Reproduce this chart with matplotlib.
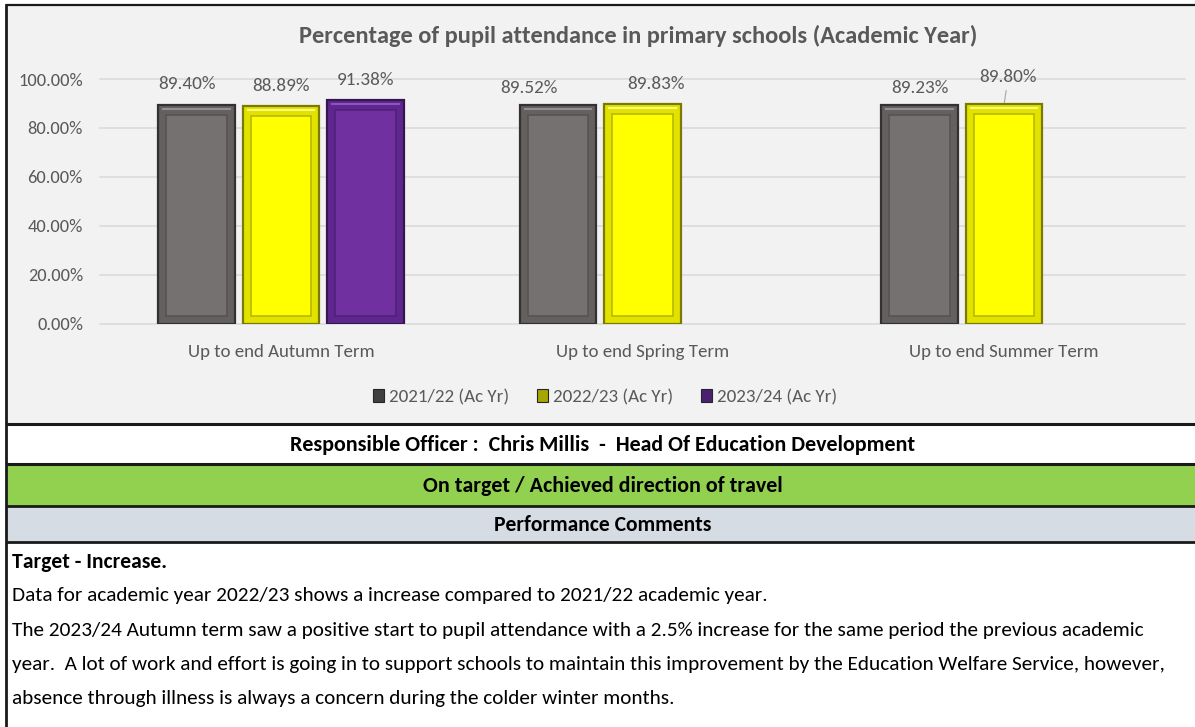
import matplotlib
matplotlib.use("Agg")
import matplotlib.pyplot as plt
from matplotlib import font_manager as fm
from matplotlib.patches import Rectangle
import numpy as np

# ---------------- data ----------------
categories = ["Up to end Autumn Term", "Up to end Spring Term", "Up to end Summer Term"]
series_names = ["2021/22 (Ac Yr)", "2022/23 (Ac Yr)", "2023/24 (Ac Yr)"]
v_2021_22 = [89.40, 89.52, 89.23]
v_2022_23 = [88.89, 89.83, 89.80]
v_2023_24 = [91.38, np.nan, np.nan]
yticks = [0, 20, 40, 60, 80, 100]

title = "Percentage of pupil attendance in primary schools (Academic Year)"
officer = "Responsible Officer :  Chris Millis  -  Head Of Education Development"
status = "On target / Achieved direction of travel"
comments_header = "Performance Comments"
comment_title = "Target - Increase."
comment_lines = [
    "Data for academic year 2022/23 shows a increase compared to 2021/22 academic year.",
    "The 2023/24 Autumn term saw a positive start to pupil attendance with a 2.5% increase for the same period the previous academic",
    "year.  A lot of work and effort is going in to support schools to maintain this improvement by the Education Welfare Service, however,",
    "absence through illness is always a concern during the colder winter months.",
]

# ---------------- styles ----------------
series = [v_2021_22, v_2022_23, v_2023_24]
fill_cols = ["#767171", "#ffff00", "#7030a0"]
band_cols = ["#646060", "#e2e200", "#5f2690"]
edge_cols = ["#333131", "#7a7a00", "#35164e"]
inner_cols = ["#575353", "#b8b800", "#51217a"]
hi_cols = ["#a09c9c", "#ffff99", "#9a5fc8"]
legend_cols = ["#404040", "#a6a600", "#4b2070"]
# label offsets in pixels (dx, dy above bar top)
lbl_dx = [[-9, -29, 0], [0, 13, 4], [0, 0, 0]]
lbl_dy = [[21, 17, 17], [20, 20, 27], [20, 0, 0]]
lbl_leader = [[False, False, False], [False, False, True], [False, False, False]]

names = {f.name for f in fm.fontManager.ttflist}
FONT = next((c for c in ["Carlito", "Calibri", "Lato", "Open Sans"] if c in names), "DejaVu Sans")
plt.rcParams["font.family"] = [FONT, "DejaVu Sans"]

W, H = 1195, 727
fig = plt.figure(figsize=(W / 100, H / 100), dpi=100)
fig.patch.set_facecolor("white")
renderer = fig.canvas.get_renderer()


def size_for(s, width_px, weight="normal"):
    fp = fm.FontProperties(family=[FONT, "DejaVu Sans"], weight=weight, size=10)
    w, h, d = renderer.get_text_width_height_descent(s, fp, ismath=False)
    return 10.0 * width_px / w


# ---------------- background / table ----------------
bg = fig.add_axes([0, 0, 1, 1])
bg.set_xlim(0, W)
bg.set_ylim(H, 0)
bg.axis("off")

chart_top, chart_bot = 5, 424
bg.add_patch(Rectangle((6, chart_top), W, chart_bot - chart_top, facecolor="#f2f2f2",
                       edgecolor="none", zorder=0))
bg.add_patch(Rectangle((6, 464), W, 42, facecolor="#92d050", edgecolor="none", zorder=0))
bg.add_patch(Rectangle((6, 506), W, 36, facecolor="#d6dce4", edgecolor="none", zorder=0))
for yy, lw in [(chart_top, 1.6), (chart_bot, 2.2), (464, 2.2), (506, 2.0), (542, 2.0)]:
    bg.plot([6, W], [yy, yy], color="#1a1a1a", lw=lw, solid_capstyle="butt", zorder=2)
bg.plot([6, 6], [chart_top, H], color="#1a1a1a", lw=2.0, zorder=2)

fs_row = size_for(officer, 624, "bold")
bg.text(603, 445, officer, ha="center", va="center", fontsize=fs_row, fontweight="bold", color="black")
bg.text(603, 486, status, ha="center", va="center", fontsize=size_for(status, 360, "bold"),
        fontweight="bold", color="black")
bg.text(603, 525, comments_header, ha="center", va="center",
        fontsize=size_for(comments_header, 217, "bold"), fontweight="bold", color="black")

fs_body = size_for(comment_lines[1], 1138)
bg.text(12, 562, comment_title, ha="left", va="center", fontsize=size_for(comment_title, 155, "bold"),
        fontweight="bold", color="black")
for i, line in enumerate(comment_lines):
    bg.text(12, 596 + i * 34.3, line, ha="left", va="center", fontsize=fs_body, color="black")

fs_title = size_for(title, 680, "bold")
bg.text(638, 36, title, ha="center", va="center", fontsize=fs_title, fontweight="bold", color="#595959")

# ---------------- chart axes ----------------
ax_l, ax_r = 100, 1185
y0_px, y100_px = 323.5, 79
ax = fig.add_axes([ax_l / W, 1 - y0_px / H, (ax_r - ax_l) / W, (y0_px - y100_px) / H])
ax.set_facecolor("none")
x = np.arange(len(categories))
ax.set_xlim(-0.5, len(categories) - 0.5)
ax.set_ylim(0, 100)

cat_px = (ax_r - ax_l) / len(categories)
px_per_pct = (y0_px - y100_px) / 100.0
bw = 76.5 / cat_px
step = 84.5 / cat_px
ix = 8.0 / cat_px
iy_top = 10.0 / px_per_pct
iy_bot = 8.0 / px_per_pct
hi = 3.0 / px_per_pct

fs_lbl = size_for("89.40%", 57)
handles = []
for k, vals in enumerate(series):
    vals = np.array(vals, dtype=float)
    pos = x + (k - 1) * step
    h = ax.bar(pos, vals, width=bw, color=band_cols[k], edgecolor=edge_cols[k], linewidth=1.6,
               zorder=3, label=series_names[k])
    handles.append(h)
    # top highlight strip of the bevel
    ax.bar(pos, np.full_like(vals, 2.0 / px_per_pct), bottom=vals - hi - 2.0 / px_per_pct,
           width=bw - 2 * 4.0 / cat_px, color=hi_cols[k], edgecolor="none", zorder=4, alpha=0.8)
    # inner face
    ax.bar(pos, vals - iy_top - iy_bot, bottom=iy_bot, width=bw - 2 * ix, color=fill_cols[k],
           edgecolor=inner_cols[k], linewidth=1.2, zorder=4)
    for j, v in enumerate(vals):
        if np.isnan(v):
            continue
        kw = {}
        if lbl_leader[k][j]:
            kw["arrowprops"] = dict(arrowstyle="-", color="#a6a6a6", lw=0.8, shrinkA=2, shrinkB=1)
        ax.annotate(f"{v:.2f}%", xy=(pos[j], v), xytext=(lbl_dx[k][j] * 0.72, lbl_dy[k][j] * 0.72),
                    textcoords="offset points", ha="center", va="center", fontsize=fs_lbl,
                    color="#595959", annotation_clip=False, zorder=5, **kw)

ax.set_yticks(yticks)
ax.set_yticklabels([f"{t:.2f}%" for t in yticks])
ax.set_xticks(x)
ax.set_xticklabels(categories)
ax.tick_params(axis="y", length=0, pad=17 * 0.72, labelsize=size_for("100.00%", 65), labelcolor="#595959")
ax.tick_params(axis="x", length=0, pad=20 * 0.72, labelsize=size_for(categories[0], 188), labelcolor="#595959")
for s in ax.spines.values():
    s.set_visible(False)
ax.set_axisbelow(True)
ax.yaxis.grid(True, color="#d9d9d9", lw=1.1)
for gl in ax.get_ygridlines():
    gl.set_clip_on(False)

fs_leg = size_for(series_names[0], 120)
u = fs_leg * 100 / 72.0
leg = fig.legend(handles=handles, labels=series_names, loc="center", ncol=3, frameon=False,
                 bbox_to_anchor=(605 / W, 1 - 397 / H), fontsize=fs_leg,
                 handlelength=11 / u, handleheight=12 / u, handletextpad=5 / u,
                 columnspacing=28 / u, labelcolor="#595959")
for p, c in zip(leg.get_patches(), legend_cols):
    p.set_facecolor(c)
    p.set_edgecolor("#262626")
    p.set_linewidth(0.8)

fig.savefig("out.png", dpi=100, facecolor="white")
